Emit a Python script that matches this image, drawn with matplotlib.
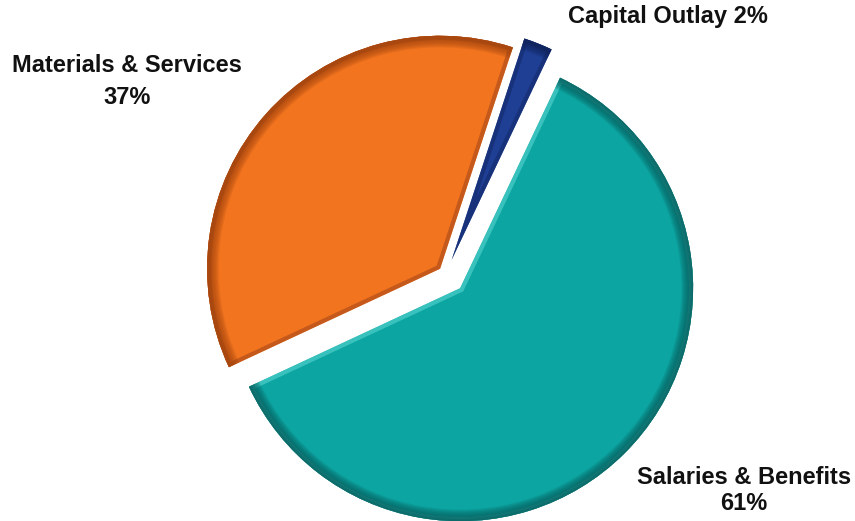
import numpy as np
import matplotlib
matplotlib.use('Agg')
import matplotlib.pyplot as plt
from matplotlib.patches import Wedge

plt.rcParams['font.family'] = ['Liberation Sans', 'DejaVu Sans']

# budget shares, drawn counterclockwise from the lower left
labels = ['Salaries & Benefits', 'Capital Outlay', 'Materials & Services']
shares = [61, 2, 37]
face_colors = ['#0ca5a2', '#1f3f95', '#f2741f']
rim_colors = ['#075f5e', '#10245c', '#a5460f']
cut_colors = ['#44c9c4', '#162f74', '#b9531a']
explode = [0.086, 0.065, 0.034]

fig = plt.figure(figsize=(8.55, 5.21), dpi=100)
ax = fig.add_axes([0, 0, 1, 1])

wedges, _ = ax.pie(shares, explode=explode, colors=face_colors, startangle=-155,
                   counterclock=True, radius=1.0, center=(0, 0), frame=True,
                   wedgeprops=dict(linewidth=0))

# bevel: shaded band on the cut edges, dark gradient along the outer arc
rim = 0.05
steps = 10
for w, dark, cut in zip(wedges, rim_colors, cut_colors):
    cx, cy = w.center
    edge = Wedge((cx, cy), w.r, w.theta1, w.theta2, facecolor='none',
                 edgecolor=cut, linewidth=6, alpha=0.8, zorder=3)
    edge.set_clip_path(w)
    ax.add_patch(edge)
    for k in range(steps):
        ring = Wedge((cx, cy), w.r, w.theta1, w.theta2, width=rim * (k + 1) / steps,
                     facecolor=dark, edgecolor='none', alpha=0.17, zorder=4)
        ax.add_patch(ring)

# map data units to the canvas: 233 px per unit, pie centre at (446, 274) px
ax.set_xlim(-446 / 233, (855 - 446) / 233)
ax.set_ylim(-(521 - 274) / 233, 274 / 233)
ax.set_aspect('auto')
ax.axis('off')

font = dict(fontsize=17, fontweight='bold', color='#111111', ha='center', va='center')
fig.text(127 / 855, 1 - 65 / 521, labels[2], **font)
fig.text(127 / 855, 1 - 97 / 521, f'{shares[2]}%', **font)
fig.text(668 / 855, 1 - 17 / 521, f'{labels[1]} {shares[1]}%', **font)
fig.text(744 / 855, 1 - 477 / 521, labels[0], **font)
fig.text(744 / 855, 1 - 504 / 521, f'{shares[0]}%', **font)

fig.savefig('out.png', dpi=100)
